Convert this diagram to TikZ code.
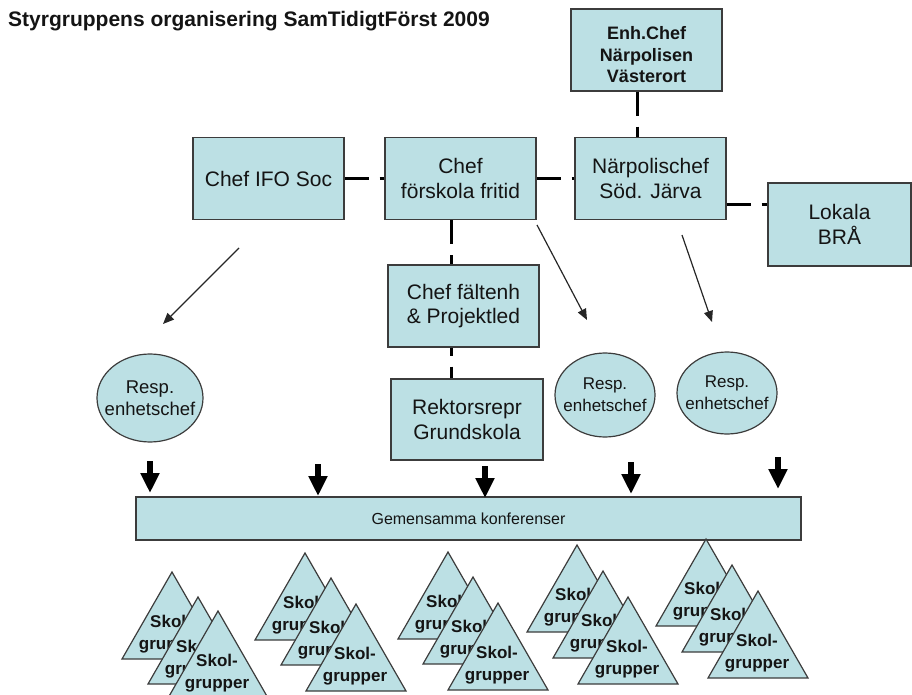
\documentclass[tikz,border=0pt]{standalone}
\usepackage{fontspec}
\setmainfont{Liberation Sans}
\usetikzlibrary{arrows.meta,shapes.geometric,calc}
\definecolor{boxblue}{RGB}{188,224,228}
\definecolor{edgegray}{RGB}{60,60,60}
\definecolor{ink}{RGB}{20,20,20}
\tikzset{
  pbox/.style={draw=edgegray, fill=boxblue, line width=1.2pt, align=center, inner sep=0pt,
    text=ink, font=\fontsize{21}{24.5}\selectfont},
  pell/.style={ellipse, draw=edgegray, fill=boxblue, line width=1.2pt, inner sep=0pt},
  ptext/.style={align=center, inner sep=0pt, text=ink, font=\fontsize{17}{22}\selectfont},
  dconn/.style={line width=3pt, draw=black, dash pattern=on 24pt off 11pt},
  thinarrow/.style={line width=1.2pt, draw=black!85, -{Triangle[length=11pt,width=9pt]}},
  blockarrow/.style={line width=6.5pt, draw=black, -{Triangle[length=20pt,width=18pt]}},
  pics/skol/.style={code={
    \path[draw=edgegray, fill=boxblue, line width=1.2pt] (0,0) -- (-50,87) -- (50,87) -- cycle;
    \node[align=center, inner sep=0pt, text=ink, font=\bfseries\fontsize{17}{22}\selectfont] (-t) at (-1,62) {Skol-\\grupper};
  }}
}
\begin{document}
\begin{tikzpicture}[x=1pt,y=-1pt]
\useasboundingbox (0,0) rectangle (912,695);

\node[anchor=base west, inner sep=0pt, text=ink, font=\bfseries\fontsize{21}{24}\selectfont] (title) at (8,27) {Styrgruppens organisering SamTidigtFörst 2009};

% boxes
\node[pbox, minimum width=151pt, minimum height=82pt] (enh) at (646.5,50) {};
\node[ptext, font=\bfseries\fontsize{18}{21.5}\selectfont] (enht) at (646.5,55) {Enh.Chef\\Närpolisen\\Västerort};
\node[pbox, minimum width=151pt, minimum height=82pt] (narp) at (650.5,178.5) {Närpolischef\\Söd. Järva};
\node[pbox, minimum width=143pt, minimum height=83pt] (lokala) at (839.5,224.5) {Lokala\\BRÅ};
\node[pbox, minimum width=151pt, minimum height=82pt] (ifo) at (268.5,178.5) {Chef IFO Soc};
\node[pbox, minimum width=151pt, minimum height=82pt] (forskola) at (460.5,178.5) {Chef\\förskola fritid};
\node[pbox, minimum width=151pt, minimum height=82pt] (falt) at (463.5,306) {Chef fältenh\\\& Projektled};
\node[pbox, minimum width=152pt, minimum height=81pt] (rektor) at (467,419.5) {Rektorsrepr\\Grundskola};

% ellipses
\node[pell, minimum width=106pt, minimum height=88pt] (r1) at (150,398) {};
\node[ptext, font=\fontsize{18.5}{22}\selectfont] (r1t) at (r1.center) {Resp.\\enhetschef};
\node[pell, minimum width=100pt, minimum height=84pt] (r2) at (605,395) {};
\node[ptext] (r2t) at (r2.center) {Resp.\\enhetschef};
\node[pell, minimum width=100pt, minimum height=82pt] (r3) at (727,393) {};
\node[ptext] (r3t) at (r3.center) {Resp.\\enhetschef};

% common conference bar
\node[pbox, minimum width=665pt, minimum height=43pt, font=\fontsize{16}{19}\selectfont] (gem) at (468.5,518.5) {Gemensamma konferenser};

% dashed connectors
\coordinate (vx1) at (637,0);
\coordinate (vx2) at (451,0);
\coordinate (hy) at (0,204);
\draw[dconn] (ifo.east) -- (forskola.west);
\draw[dconn] (forskola.east) -- (narp.west);
\draw[dconn] (enh.south -| vx1) -- (narp.north -| vx1);
\draw[dconn] (narp.east |- hy) -- (lokala.west |- hy);
\draw[dconn] (forskola.south -| vx2) -- (falt.north -| vx2);
\draw[dconn, dash phase=16pt] (falt.south -| vx2) -- (rektor.north -| vx2);

% thin arrows
\coordinate (a1s) at (239,248); \coordinate (a1e) at (163,324);
\coordinate (a2s) at (537,225); \coordinate (a2e) at (587,320);
\coordinate (a3s) at (682,235); \coordinate (a3e) at (712,322);
\draw[thinarrow] (a1s) -- (a1e);
\draw[thinarrow] (a2s) -- (a2e);
\draw[thinarrow] (a3s) -- (a3e);

% block arrows
\coordinate (b1s) at (150,461); \coordinate (b1e) at (150,493);
\coordinate (b2s) at (318,464); \coordinate (b2e) at (318,496);
\coordinate (b3s) at (485,466); \coordinate (b3e) at (485,498);
\coordinate (b4s) at (631,462); \coordinate (b4e) at (631,494);
\coordinate (b5s) at (778,457); \coordinate (b5e) at (778,489);
\foreach \i in {1,...,5} {\draw[blockarrow] (b\i s) -- (b\i e);}

% triangle groups
\pic (g1a) at (172,572) {skol}; \pic (g1b) at (198,597) {skol}; \pic (g1c) at (218,611) {skol};
\pic (g2a) at (305,553) {skol}; \pic (g2b) at (331,578) {skol}; \pic (g2c) at (356,604) {skol};
\pic (g3a) at (448,552) {skol}; \pic (g3b) at (473,577) {skol}; \pic (g3c) at (498,603) {skol};
\pic (g4a) at (577,545) {skol}; \pic (g4b) at (603,571) {skol}; \pic (g4c) at (628,597) {skol};
\pic (g5a) at (706,539) {skol}; \pic (g5b) at (732,565) {skol}; \pic (g5c) at (758,591) {skol};
\end{tikzpicture}
\end{document}
